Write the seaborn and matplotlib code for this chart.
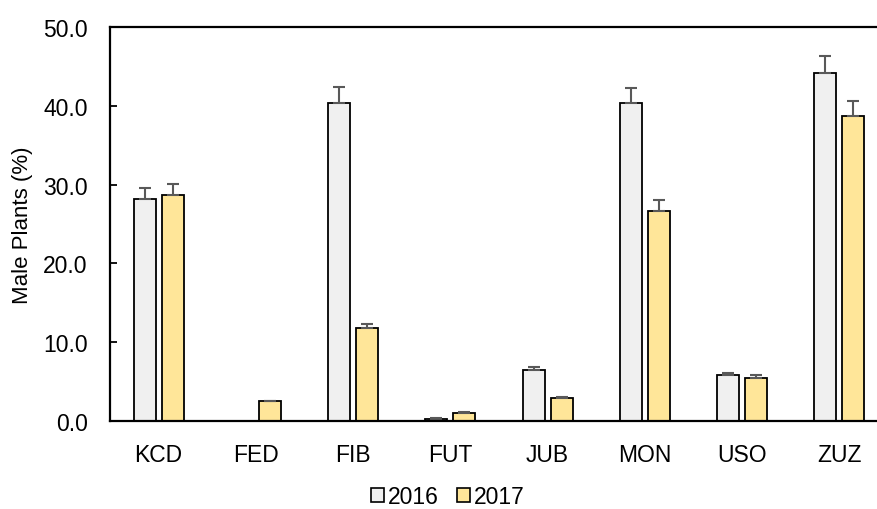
import pandas as pd
import seaborn as sns
import matplotlib.pyplot as plt
from matplotlib.patches import Patch
import numpy as np

# Chart data
sites = ['KCD', 'FED', 'FIB', 'FUT', 'JUB', 'MON', 'USO', 'ZUZ']
years = ['2016', '2017']
male_2016 = [28.2, 0.0, 40.4, 0.3, 6.5, 40.3, 5.9, 44.1]
male_2017 = [28.7, 2.5, 11.8, 1.0, 2.9, 26.7, 5.5, 38.7]
err_2016 = [1.4, 0.0, 2.0, 0.05, 0.35, 2.0, 0.25, 2.2]
err_2017 = [1.4, 0.1, 0.5, 0.1, 0.15, 1.3, 0.3, 1.9]
colors = {'2016': '#F0F0F0', '2017': '#FFE699'}

df = pd.DataFrame({
    'site': sites * 2,
    'year': ['2016'] * len(sites) + ['2017'] * len(sites),
    'value': male_2016 + male_2017,
})

sns.set_style('white')
plt.rcParams['font.family'] = ['Liberation Sans', 'DejaVu Sans']
plt.rcParams['text.color'] = 'black'
plt.rcParams['axes.labelcolor'] = 'black'
plt.rcParams['xtick.color'] = 'black'
plt.rcParams['ytick.color'] = 'black'

fig = plt.figure(figsize=(8.78, 5.10), dpi=100)
ax = fig.add_axes([110 / 878, 88 / 510, 778 / 878, 394 / 510])

sns.barplot(data=df, x='site', y='value', hue='year', hue_order=years,
            order=sites, palette=colors, saturation=1, width=0.576, gap=0.215,
            errorbar=None, edgecolor='black', linewidth=1.3,
            legend=False, ax=ax)

# One-sided error bars from the bar positions
for cont, errs in zip(ax.containers, [err_2016, err_2017]):
    for bar, e in zip(cont, errs):
        if e <= 0:
            continue
        x = bar.get_x() + bar.get_width() / 2
        h = bar.get_height()
        ax.errorbar(x, h, yerr=[[0], [e]], fmt='none', ecolor='#595959',
                    elinewidth=1.5, capsize=4.3, capthick=1.5, zorder=1)

ax.set_xlim(-0.5, len(sites) - 0.5)
ax.set_ylim(0, 50)
ax.set_yticks(np.arange(0, 51, 10))
ax.set_yticklabels([f'{v:.1f}' for v in np.arange(0, 51, 10)], fontsize=16.5)
ax.set_xlabel('')
ax.set_ylabel('Male Plants (%)', fontsize=16, labelpad=7)
ax.tick_params(axis='x', which='major', length=0, labelsize=16.5, pad=16)
ax.set_xticks(np.arange(0.5, len(sites) - 0.5, 1), minor=True)
ax.tick_params(axis='x', which='minor', direction='in', length=6, width=1.3, color='black')
ax.tick_params(axis='y', direction='in', length=5, width=1.3, color='black', left=True, pad=16)

for side in ['left', 'bottom', 'top']:
    ax.spines[side].set_visible(True)
    ax.spines[side].set_color('black')
    ax.spines[side].set_linewidth(1.6)
ax.spines['right'].set_visible(False)

handles = [Patch(facecolor=colors[y], edgecolor='black', linewidth=1.2, label=y) for y in years]
fig.legend(handles=handles, loc='center', bbox_to_anchor=(0.51, 1 - 498 / 510), ncol=2,
           frameon=False, fontsize=16.5, handlelength=0.57, handleheight=0.57,
           handletextpad=0.15, columnspacing=0.8, borderpad=0)

fig.savefig('out.png', dpi=100)
